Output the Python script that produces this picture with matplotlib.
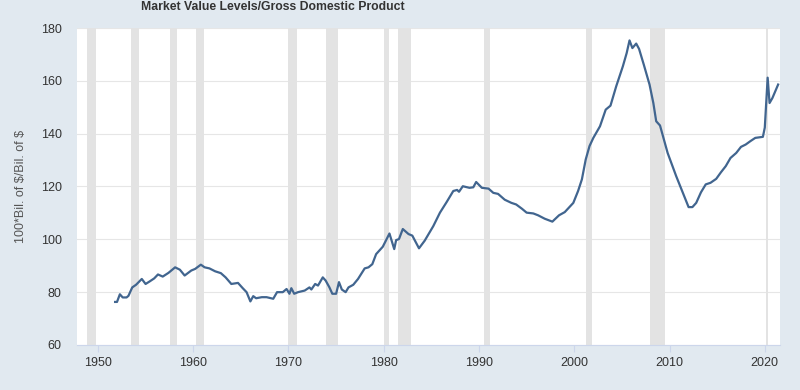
import matplotlib.pyplot as plt

plt.rcParams['font.family'] = ['Liberation Sans', 'DejaVu Sans']

# series (year, value)
years = [1951.8, 1952.0, 1952.3, 1952.6, 1953.0, 1953.2, 1953.6, 1954.0, 1954.6, 1955.0,
         1955.4, 1955.9, 1956.3, 1956.8, 1957.4, 1958.1, 1958.6, 1959.1, 1959.8, 1960.2,
         1960.8, 1961.2, 1961.7, 1962.3, 1962.9, 1963.4, 1964.0, 1964.7, 1965.2, 1965.6,
         1966.0, 1966.3, 1966.6, 1967.2, 1967.7, 1968.4, 1968.8, 1969.4, 1969.8, 1970.1,
         1970.3, 1970.6, 1971.0, 1971.7, 1972.2, 1972.4, 1972.8, 1973.1, 1973.6, 1973.9,
         1974.3, 1974.6, 1975.0, 1975.3, 1975.6, 1976.0, 1976.3, 1976.8, 1977.3, 1978.0,
         1978.4, 1978.8, 1979.2, 1979.9, 1980.6, 1981.1, 1981.3, 1981.6, 1982.0, 1982.6,
         1983.0, 1983.7, 1984.3, 1984.8, 1985.2, 1985.9, 1986.6, 1987.3, 1987.7, 1987.9,
         1988.3, 1989.0, 1989.4, 1989.7, 1990.3, 1991.0, 1991.5, 1992.0, 1992.7, 1993.4,
         1993.9, 1994.5, 1995.0, 1995.7, 1996.2, 1996.9, 1997.7, 1998.4, 1999.0, 1999.6,
         1999.9, 2000.4, 2000.8, 2001.2, 2001.6, 2002.0, 2002.7, 2003.3, 2003.8, 2004.4,
         2005.1, 2005.5, 2005.8, 2006.1, 2006.5, 2006.8, 2007.3, 2007.9, 2008.3, 2008.6,
         2009.0, 2009.8, 2010.7, 2011.4, 2012.0, 2012.4, 2012.8, 2013.3, 2013.8, 2014.3,
         2014.9, 2015.4, 2015.9, 2016.4, 2017.0, 2017.5, 2018.0, 2018.5, 2019.0, 2019.8,
         2020.0, 2020.3, 2020.5, 2020.8, 2021.4]
values = [76.3, 76.3, 79.2, 78.0, 78.0, 78.6, 81.8, 82.8, 85.0, 83.1,
          84.0, 85.2, 86.7, 85.9, 87.3, 89.4, 88.5, 86.3, 88.2, 88.8,
          90.4, 89.4, 89.0, 87.9, 87.2, 85.6, 83.1, 83.5, 81.5, 80.0,
          76.5, 78.5, 77.7, 78.1, 78.1, 77.5, 80.0, 80.0, 81.2, 79.4,
          81.5, 79.4, 80.0, 80.6, 81.8, 81.0, 83.1, 82.5, 85.6, 84.4,
          81.8, 79.4, 79.4, 83.8, 81.0, 80.0, 81.8, 82.8, 85.0, 89.0,
          89.4, 90.6, 94.4, 97.2, 102.2, 96.3, 99.7, 100.1, 103.9, 102.0,
          101.4, 96.6, 99.5, 102.6, 105.0, 110.1, 114.1, 118.3, 118.7, 118.0,
          120.1, 119.5, 119.7, 121.7, 119.5, 119.2, 117.6, 117.2, 115.0, 113.8,
          113.2, 111.6, 110.1, 109.8, 109.1, 107.8, 106.7, 109.1, 110.3, 112.6,
          113.8, 118.3, 122.7, 130.2, 135.3, 138.4, 142.8, 149.1, 150.6, 157.9,
          165.5, 170.5, 175.3, 172.4, 174.1, 172.1, 166.1, 158.6, 151.6, 144.7,
          143.1, 132.7, 123.9, 117.6, 112.2, 112.2, 113.8, 117.8, 120.8, 121.4,
          122.9, 125.4, 127.7, 130.8, 132.7, 135.0, 135.9, 137.2, 138.4, 138.8,
          142.3, 161.2, 151.6, 153.5, 158.6]

# NBER recessions (start, end)
rec_start = [1948.9, 1953.5, 1957.6, 1960.3, 1969.9, 1973.9, 1980.0, 1981.5, 1990.5, 2001.2, 2007.9, 2020.1]
rec_end = [1949.8, 1954.3, 1958.3, 1961.1, 1970.9, 1975.2, 1980.5, 1982.9, 1991.2, 2001.9, 2009.5, 2020.3]

bg = '#e1e9f0'
fig = plt.figure(figsize=(8, 3.9), dpi=100, facecolor=bg)
ax = fig.add_axes([0.09625, 0.1154, 0.8788, 0.8128])
ax.set_facecolor('white')

for s, e in zip(rec_start, rec_end):
    ax.axvspan(s, e, color='#e3e3e3', lw=0, zorder=1)

ax.plot(years, values, color='#41658f', lw=1.6, zorder=3)

ax.set_xlim(1947.8, 2021.6)
ax.set_ylim(60, 180)
ax.set_yticks(range(60, 181, 20))
ax.set_xticks(range(1950, 2021, 10))
ax.grid(axis='y', color='#e6e6e6', lw=0.8, zorder=2)
ax.set_axisbelow(True)
for side in ['top', 'right', 'left']:
    ax.spines[side].set_visible(False)
ax.spines['bottom'].set_color('#ccd6eb')
ax.tick_params(axis='y', length=0, labelsize=9, labelcolor='#333333', pad=11)
ax.tick_params(axis='x', length=5, color='#ccd6eb', labelsize=9, labelcolor='#333333', pad=4)
ax.set_ylabel('100*Bil. of \\$/Bil. of \\$', fontsize=9, color='#555555', labelpad=10)

fig.text(0.341, 0.982, 'Market Value Levels/Gross Domestic Product', fontsize=8.8,
         fontweight='bold', color='#333333', ha='center', va='center')

fig.savefig('out.png', dpi=100, facecolor=bg)
